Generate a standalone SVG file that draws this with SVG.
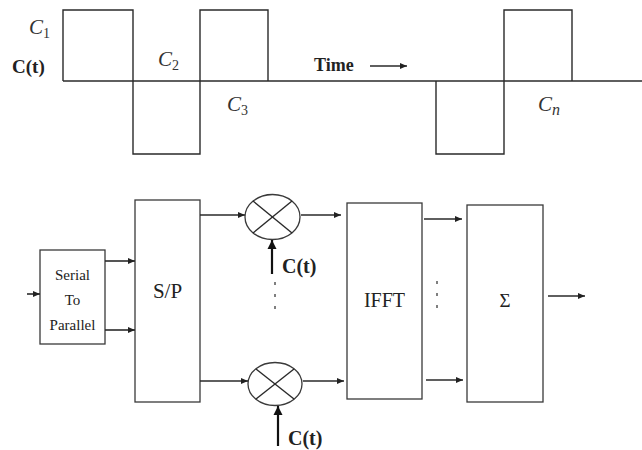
<svg xmlns="http://www.w3.org/2000/svg" width="642" height="450" viewBox="0 0 642 450">
<style>
.ln{fill:none;stroke:#2a2a2a;stroke-width:1.4}
.bx{fill:#fff;stroke:#3a3a3a;stroke-width:1.3}
.ar{fill:none;stroke:#2a2a2a;stroke-width:1.6}
.ct{fill:none;stroke:#111;stroke-width:2.2}
.t{fill:#222}
.it{font-style:italic;fill:#333;font-size:21px}
.b{font-weight:bold}
.dot{stroke:#555;stroke-width:1.5}
</style>
<defs>
<marker id="ah" markerWidth="8" markerHeight="8" refX="7" refY="4" orient="auto" markerUnits="userSpaceOnUse">
<path d="M0,1 L7,4 L0,7 Z" fill="#222"/>
</marker>
<marker id="ahb" markerWidth="10" markerHeight="12" refX="9" refY="6" orient="auto" markerUnits="userSpaceOnUse">
<path d="M0,1.5 L9,6 L0,10.5 Z" fill="#111"/>
</marker>
</defs>
<rect width="642" height="450" fill="#fff"/>
<g font-family="'Liberation Serif', 'DejaVu Serif', serif">
<g id="waveform">
<path class="ln" d="M63,81 L63,10 L133,10 L133,154 L200,154 L200,10 L268,10 L268,81"/>
<line class="ln" x1="63" y1="81" x2="642" y2="81"/>
<path class="ln" d="M436,81 L436,154 L504,154 L504,10 L572,10 L572,81"/>
<text class="it" x="29" y="34">C<tspan font-size="14" font-style="normal" dy="4">1</tspan></text>
<text class="t b" x="12" y="73" font-size="19">C(t)</text>
<text class="it" x="158" y="66">C<tspan font-size="14" font-style="normal" dy="4">2</tspan></text>
<text class="it" x="227" y="111">C<tspan font-size="14" font-style="normal" dy="4">3</tspan></text>
<text class="it" x="538" y="111">C<tspan font-size="16" dy="4">n</tspan></text>
<text class="t b" x="314" y="71" font-size="18">Time</text>
<line class="ar" x1="370" y1="66" x2="407" y2="66" marker-end="url(#ah)"/>
</g>

<g id="serial-to-parallel">
<rect class="bx" x="40" y="250" width="65" height="94"/>
<text class="t" x="72.5" y="280" font-size="15" text-anchor="middle" fill="#444">Serial</text>
<text class="t" x="72.5" y="305" font-size="15" text-anchor="middle" fill="#444">To</text>
<text class="t" x="72.5" y="330" font-size="15" text-anchor="middle" fill="#444">Parallel</text>
</g>

<g id="sp">
<rect class="bx" x="135" y="200" width="65" height="202"/>
<text class="t" x="167.5" y="298" font-size="21" text-anchor="middle">S/P</text>
</g>

<g id="mult-top">
<ellipse class="bx" cx="272.5" cy="217" rx="27.5" ry="22.5"/>
<line class="ln" x1="253" y1="201" x2="292" y2="233"/>
<line class="ln" x1="292" y1="201" x2="253" y2="233"/>
<text class="t b" x="282" y="273" font-size="20">C(t)</text>
</g>

<g id="mult-bottom">
<ellipse class="bx" cx="275" cy="384" rx="27" ry="21.5"/>
<line class="ln" x1="256" y1="369" x2="294" y2="399"/>
<line class="ln" x1="294" y1="369" x2="256" y2="399"/>
<text class="t b" x="288" y="445" font-size="20">C(t)</text>
</g>

<g id="ifft">
<rect class="bx" x="347" y="203" width="75" height="196"/>
<text class="t" x="384.5" y="307" font-size="20" text-anchor="middle">IFFT</text>
</g>

<g id="sum">
<rect class="bx" x="467" y="205" width="76" height="197"/>
<text class="t" x="505" y="307" font-size="19" text-anchor="middle">Σ</text>
</g>

<g id="dots">
<line class="dot" x1="275" y1="282" x2="275" y2="285"/>
<line class="dot" x1="275" y1="294" x2="275" y2="297"/>
<line class="dot" x1="275" y1="306" x2="275" y2="309"/>
<line class="dot" x1="437" y1="281" x2="437" y2="284"/>
<line class="dot" x1="437" y1="293" x2="437" y2="296"/>
<line class="dot" x1="437" y1="305" x2="437" y2="308"/>
</g>

<g id="connectors">
<line class="ar" x1="27" y1="294" x2="40" y2="294" marker-end="url(#ah)"/>
<line class="ar" x1="105" y1="261" x2="135" y2="261" marker-end="url(#ah)"/>
<line class="ar" x1="105" y1="330" x2="135" y2="330" marker-end="url(#ah)"/>
<line class="ar" x1="200" y1="215" x2="245" y2="215" marker-end="url(#ah)"/>
<line class="ar" x1="200" y1="381" x2="248" y2="381" marker-end="url(#ah)"/>
<line class="ct" x1="272" y1="274" x2="272" y2="240" marker-end="url(#ahb)"/>
<line class="ct" x1="278" y1="446" x2="278" y2="406" marker-end="url(#ahb)"/>
<line class="ar" x1="301" y1="215" x2="341" y2="215" marker-end="url(#ah)"/>
<line class="ar" x1="303" y1="381" x2="344" y2="381" marker-end="url(#ah)"/>
<line class="ar" x1="424" y1="219" x2="462" y2="219" marker-end="url(#ah)"/>
<line class="ar" x1="426" y1="380" x2="463" y2="380" marker-end="url(#ah)"/>
<line class="ar" x1="548" y1="296" x2="585" y2="296" marker-end="url(#ah)"/>
</g>
</g>
</svg>
